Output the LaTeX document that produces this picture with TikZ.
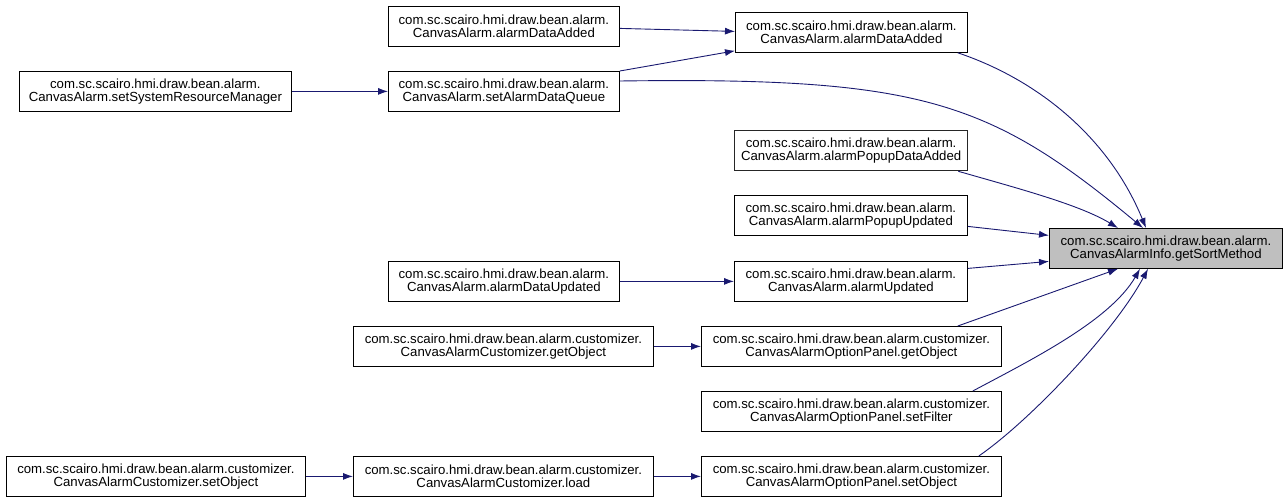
\documentclass[tikz,border=0pt]{standalone}
\usepackage{fontspec}
\setmainfont{Liberation Sans}
\usepackage{tikz}
\usepackage{xcolor}
\usetikzlibrary{arrows.meta}
\definecolor{edgeblue}{RGB}{25,25,112}
\definecolor{focusgray}{RGB}{191,191,191}
\tikzset{
    %Define style for function boxes
    funcbox/.style={
           rectangle,
           draw=black, line width=0.8pt,
           fill=white,
           minimum height=40pt,
           minimum width=232pt,
           inner sep=0pt,
           align=center,
           anchor=north west,
           font=\fontsize{13.2}{13.5}\selectfont},
    funcboxw/.style={
           funcbox,
           minimum width=300pt},
    focusbox/.style={
           funcbox,
           fill=focusgray,
           minimum width=233pt},
    callarrow/.style={->, draw=edgeblue, line width=0.9pt}
}

\begin{document}
\begin{tikzpicture}[>={Latex[length=10pt,width=7pt]}, x=1pt, y=-1pt]
\useasboundingbox (0,0) rectangle (1287,503);
\node[focusbox] (getSortMethod) at (1049,228) {com.sc.scairo.hmi.draw.bean.alarm.\\CanvasAlarmInfo.getSortMethod};
\node[funcbox] (dataAddedB) at (735,12) {com.sc.scairo.hmi.draw.bean.alarm.\\CanvasAlarm.alarmDataAdded};
\node[funcbox, draw=black!85, line width=1.3pt, minimum width=233pt] (popupDataAdded) at (734,130) {com.sc.scairo.hmi.draw.bean.alarm.\\CanvasAlarm.alarmPopupDataAdded};
\node[funcbox, minimum width=233pt] (popupUpdated) at (734,195) {com.sc.scairo.hmi.draw.bean.alarm.\\CanvasAlarm.alarmPopupUpdated};
\node[funcbox, minimum width=233pt] (alarmUpdated) at (734,261) {com.sc.scairo.hmi.draw.bean.alarm.\\CanvasAlarm.alarmUpdated};
\node[funcboxw] (panelGetObject) at (701,326) {com.sc.scairo.hmi.draw.bean.alarm.customizer.\\CanvasAlarmOptionPanel.getObject};
\node[funcboxw] (panelSetFilter) at (701,391) {com.sc.scairo.hmi.draw.bean.alarm.customizer.\\CanvasAlarmOptionPanel.setFilter};
\node[funcboxw] (panelSetObject) at (701,456) {com.sc.scairo.hmi.draw.bean.alarm.customizer.\\CanvasAlarmOptionPanel.setObject};
\node[funcbox, minimum width=231pt] (dataAddedA) at (388,6) {com.sc.scairo.hmi.draw.bean.alarm.\\CanvasAlarm.alarmDataAdded};
\node[funcbox, minimum width=231pt] (setQueue) at (388,71) {com.sc.scairo.hmi.draw.bean.alarm.\\CanvasAlarm.setAlarmDataQueue};
\node[funcbox, minimum width=231pt] (dataUpdated) at (388,261) {com.sc.scairo.hmi.draw.bean.alarm.\\CanvasAlarm.alarmDataUpdated};
\node[funcboxw] (custGetObject) at (353,326) {com.sc.scairo.hmi.draw.bean.alarm.customizer.\\CanvasAlarmCustomizer.getObject};
\node[funcboxw] (custLoad) at (353,456) {com.sc.scairo.hmi.draw.bean.alarm.customizer.\\CanvasAlarmCustomizer.load};
\node[funcbox, minimum width=272pt] (sysResMgr) at (19,71) {com.sc.scairo.hmi.draw.bean.alarm.\\CanvasAlarm.setSystemResourceManager};
\node[funcboxw, minimum width=299pt] (custSetObject) at (6,456) {com.sc.scairo.hmi.draw.bean.alarm.customizer.\\CanvasAlarmCustomizer.setObject};
%callers of getSortMethod
\path[callarrow] ([xshift=-10pt]dataAddedB.south east) .. controls +(83,28) and +(-36,-88) .. ([xshift=97pt]getSortMethod.north west);
\path[callarrow] ([yshift=-10pt]setQueue.north east) .. controls +(300,-4) and +(-154,-128) .. ([xshift=94pt]getSortMethod.north west);
\path[callarrow] ([xshift=-10pt]popupDataAdded.south east) .. controls +(63,18) and +(-38,-23) .. ([xshift=69pt]getSortMethod.north west);
\path[callarrow] ([yshift=-11pt]popupUpdated.east) -- ([yshift=13pt]getSortMethod.west);
\path[callarrow] ([yshift=13pt]alarmUpdated.east) -- ([yshift=-13pt]getSortMethod.west);
\path[callarrow] ([xshift=-44pt]panelGetObject.north east) -- ([xshift=69pt]getSortMethod.south west);
\path[callarrow] ([xshift=-29pt]panelSetFilter.north east) .. controls +(58,-31) and +(-30,52) .. ([xshift=91pt]getSortMethod.south west);
\path[callarrow] ([xshift=-23pt]panelSetObject.north east) .. controls +(52,-36) and +(-33,62) .. ([xshift=99pt]getSortMethod.south west);
%callers further left
\path[callarrow] ([yshift=-2pt]dataAddedA.east) -- ([yshift=1pt]dataAddedB.west);
\path[callarrow] (setQueue.north east) -- ([yshift=2pt]dataAddedB.south west);
\path[callarrow] (sysResMgr.east) -- (setQueue.west);
\path[callarrow] (dataUpdated.east) -- (alarmUpdated.west);
\path[callarrow] (custGetObject.east) -- (panelGetObject.west);
\path[callarrow] (custSetObject.east) -- (custLoad.west);
\path[callarrow] (custLoad.east) -- (panelSetObject.west);
\end{tikzpicture}
\end{document}
